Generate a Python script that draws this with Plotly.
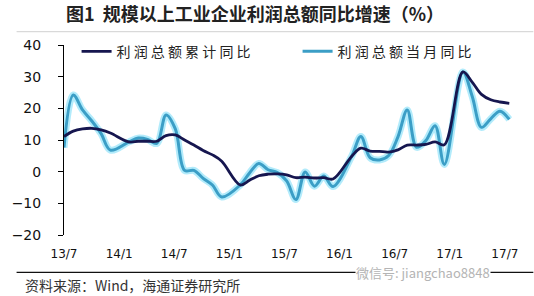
import plotly.graph_objects as go

# ---------------- data ----------------
months = ["13/7", "13/8", "13/9", "13/10", "13/11", "13/12",
          "14/1", "14/2", "14/3", "14/4", "14/5", "14/6", "14/7", "14/8", "14/9", "14/10", "14/11", "14/12",
          "15/1", "15/2", "15/3", "15/4", "15/5", "15/6", "15/7", "15/8", "15/9", "15/10", "15/11", "15/12",
          "16/1", "16/2", "16/3", "16/4", "16/5", "16/6", "16/7", "16/8", "16/9", "16/10", "16/11", "16/12",
          "17/1", "17/2", "17/3", "17/4", "17/5", "17/6", "17/7"]

# cumulative YoY (January merged into Jan-Feb -> no January value)
cum_yoy = [11.1, 12.8, 13.5, 13.7, 13.2, 12.2,
           None, 9.4, 9.6, 9.6, 9.6, 11.4, 11.6, 10.0, 8.4, 6.7, 5.3, 3.3,
           None, -4.2, -2.7, -1.3, -0.8, -0.7, -1.0, -1.9, -1.7, -2.0, -1.9, -2.3,
           None, 4.8, 7.4, 6.5, 6.4, 6.2, 6.9, 8.4, 8.4, 8.6, 9.4, 8.5,
           None, 31.5, 28.3, 24.4, 22.7, 22.0, 21.6]

# monthly YoY
mon_yoy = [7.6, 24.2, 19.5, 16.0, 12.0, 6.8,
           None, 9.4, 10.6, 10.2, 8.9, 17.9, 13.5, 0.4, 0.4, -2.1, -4.2, -8.0,
           None, -4.2, -0.4, 2.6, 0.6, -0.3, -2.9, -8.8, -0.1, -4.6, -1.4, -4.7,
           None, 4.8, 11.1, 4.4, 3.7, 5.1, 11.0, 19.5, 7.7, 9.8, 14.5, 2.3,
           None, 31.5, 23.8, 14.0, 16.7, 19.1, 16.5]

tick_labels = ["13/7", "14/1", "14/7", "15/1", "15/7", "16/1", "16/7", "17/1", "17/7"]

series_names = ["利 润 总 额 累 计 同 比", "利 润 总 额 当 月 同 比"]
title_text = "图1  规模以上工业企业利润总额同比增速（%）"
source_text = "资料来源：Wind，海通证券研究所"
watermark_text = "微信号: jiangchao8848"

# ---------------- layout constants ----------------
W, H = 534, 296
ML, MR, MT, MB = 49, 21, 45, 61
PW, PH = W - ML - MR, H - MT - MB
TICK_STRETCH = 0.99

def px_to_paper_x(px):
    return (px - ML) / PW

def px_to_paper_y(py):
    return (H - MB - py) / PH

x = list(range(len(months)))
tickvals = [months.index(t) * TICK_STRETCH for t in tick_labels]

DARK = "#16164f"
LIGHT = "#3b9ec6"
HALO = "rgba(165,232,250,0.85)"

fig = go.Figure()
fig.add_trace(go.Scatter(x=x, y=mon_yoy, mode="lines", connectgaps=True,
                         line=dict(color=HALO, width=7, shape="spline", smoothing=1),
                         showlegend=False, hoverinfo="skip"))
fig.add_trace(go.Scatter(x=x, y=mon_yoy, mode="lines", connectgaps=True, name=series_names[1],
                         line=dict(color=LIGHT, width=3, shape="spline", smoothing=1),
                         legendrank=2))
fig.add_trace(go.Scatter(x=x, y=cum_yoy, mode="lines", connectgaps=True, name=series_names[0],
                         line=dict(color=DARK, width=2.8, shape="spline", smoothing=1),
                         legendrank=1))

fig.update_layout(
    width=W, height=H,
    margin=dict(l=ML, r=MR, t=MT, b=MB),
    paper_bgcolor="white", plot_bgcolor="white",
    font=dict(family="DejaVu Sans", color="#111"),
    title=dict(text="<b>" + title_text + "</b>", x=255 / W, y=1 - 15 / H,
               xanchor="center", yanchor="middle", xref="container", yref="container",
               font=dict(family="Noto Sans CJK SC", size=18, color="#222")),
    xaxis=dict(range=[0, 48.4], showgrid=False, zeroline=False, showline=False,
               ticks="", tickvals=tickvals, ticktext=tick_labels,
               tickfont=dict(family="DejaVu Sans", size=12, color="#111"),
               ticklabelstandoff=10),
    xaxis2=dict(range=[0, 48.4], overlaying="x", anchor="free", position=1 / 3,
                showgrid=False, zeroline=False, showline=True, linecolor="black", linewidth=1,
                ticks="outside", ticklen=4, tickcolor="black", tickvals=tickvals,
                showticklabels=False),
    yaxis=dict(range=[-20, 40], dtick=10, showgrid=False, zeroline=False,
               showline=True, linecolor="black", linewidth=1,
               ticks="outside", ticklen=5, tickcolor="black",
               tickfont=dict(family="DejaVu Sans", size=14, color="#111"),
               ticklabelstandoff=14),
    legend=dict(orientation="h", x=px_to_paper_x(62), y=px_to_paper_y(51.7),
                xanchor="left", yanchor="middle", entrywidth=176,
                bgcolor="rgba(0,0,0,0)",
                font=dict(family="Noto Sans CJK SC", size=14, color="#222")),
    showlegend=True,
)

# decorative rules
fig.add_shape(type="line", xref="paper", yref="paper",
              x0=px_to_paper_x(0), x1=px_to_paper_x(W), y0=px_to_paper_y(31.7), y1=px_to_paper_y(31.7),
              line=dict(color="#d0d0d0", width=1))
fig.add_shape(type="line", xref="paper", yref="paper",
              x0=px_to_paper_x(0), x1=px_to_paper_x(W), y0=px_to_paper_y(272.3), y1=px_to_paper_y(272.3),
              line=dict(color="#111", width=1.2))

fig.add_annotation(text=source_text, xref="paper", yref="paper",
                   x=px_to_paper_x(7), y=px_to_paper_y(285), xanchor="left", yanchor="middle",
                   showarrow=False, font=dict(family="Noto Sans CJK SC", size=14, color="#333"))
fig.add_annotation(text=watermark_text, xref="paper", yref="paper",
                   x=px_to_paper_x(350), y=px_to_paper_y(272), xanchor="left", yanchor="middle",
                   showarrow=False, bgcolor="white", borderpad=0,
                   font=dict(family="Noto Sans CJK SC", size=13, color="#b4b4b4"))

fig.write_html("out.html")
